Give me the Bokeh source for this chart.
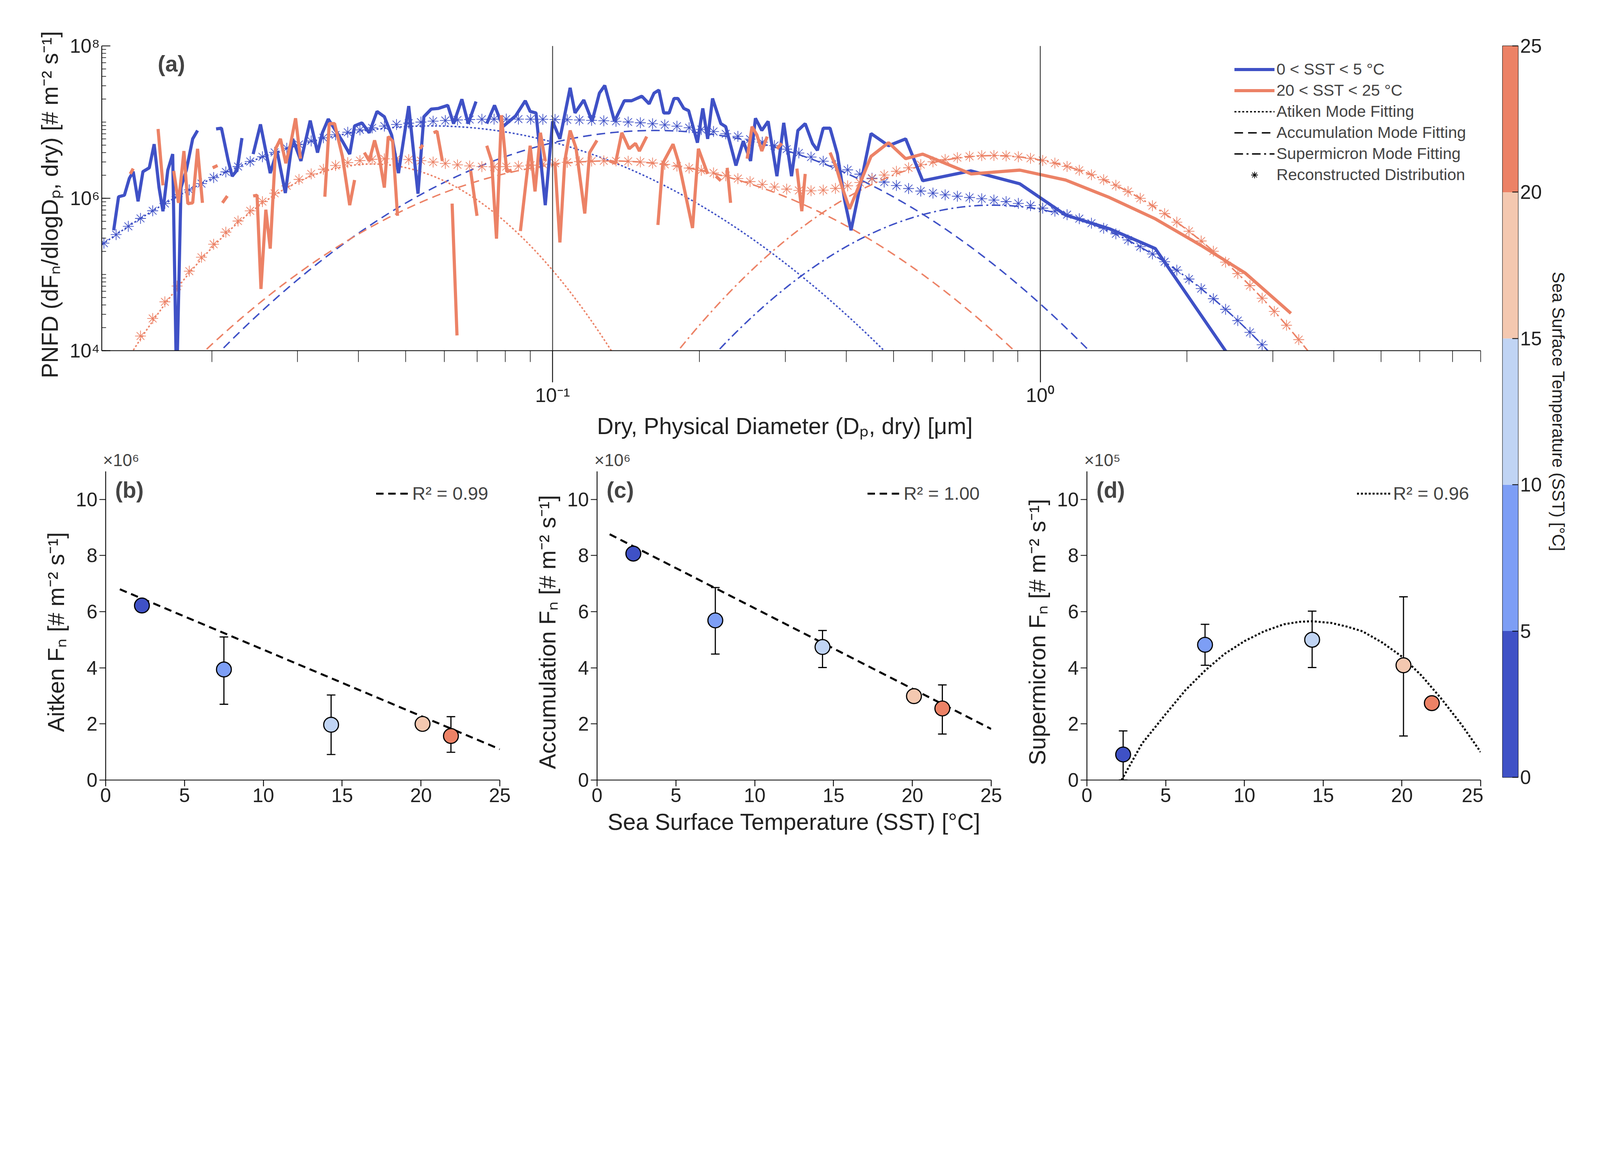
import numpy as np
from bokeh.plotting import figure
from bokeh.models import (Span, Label, Legend, LegendItem, FixedTicker, Whisker, TeeHead,
                          ColumnDataSource)
from bokeh.layouts import row, column
from bokeh.embed import file_html
from bokeh.resources import INLINE

S = 0.735  # global scale so the whole layout fits the captured viewport
def z(v):
    return int(round(v * S))
def fs(v):
    return f"{v * S:.1f}px"
def dash(*a):
    return " ".join(str(max(1, z(v))) for v in a)

FONT = "Liberation Sans"
BLUE = "#3f51c6"
ORANGE = "#ec8266"
CB_COLORS = ["#3f51c6", "#7d9ef5", "#c0d4f4", "#f4c8b0", "#ec8266"]
CB_EDGES = [0, 5, 10, 15, 20, 25]

# ---- panel (a): measured size distributions (log10 D [um], log10 PNFD) ----
blue_logD = [-1.900,-1.890,-1.878,-1.868,-1.860,-1.850,-1.840,-1.827,-1.817,-1.807,-1.799,-1.789,-1.779,-1.771,-1.762,-1.751,-1.738,-1.728,np.nan,
 -1.690,-1.679,-1.665,-1.657,-1.647,-1.637,np.nan,-1.614,-1.599,-1.579,-1.565,-1.548,-1.533,-1.516,-1.497,-1.482,-1.472,-1.460,-1.431,-1.416,-1.406,
 -1.391,-1.376,-1.360,-1.345,-1.330,-1.316,-1.295,-1.276,-1.264,-1.249,-1.234,-1.215,-1.203,-1.186,-1.173,-1.157,np.nan,-1.135,-1.119,-1.102,-1.076,
 -1.056,-1.046,-1.034,-1.015,-1.000,-0.985,-0.964,-0.954,-0.936,-0.919,-0.904,-0.893,-0.873,-0.853,-0.838,-0.817,-0.802,-0.792,-0.782,-0.772,-0.761,
 -0.751,-0.743,-0.731,-0.721,-0.703,-0.692,-0.682,-0.672,-0.655,-0.645,-0.624,-0.609,-0.594,-0.584,-0.571,-0.558,-0.540,-0.526,-0.510,-0.497,-0.482,
 -0.467,-0.457,-0.445,-0.431,-0.416,-0.401,-0.388,-0.347,-0.311,-0.276,-0.241,-0.142,-0.042,0.052,0.142,0.236,0.385]
blue_logV = [5.58,6.02,6.04,6.26,6.35,5.96,6.35,6.40,6.71,6.14,5.83,6.37,6.58,3.5,6.14,6.37,6.78,6.89,np.nan,
 6.91,6.92,6.49,6.29,6.37,6.79,np.nan,6.58,6.97,6.33,6.62,6.07,6.78,6.49,7.02,6.60,6.86,7.04,6.75,6.58,6.95,
 6.99,6.86,7.14,7.07,6.83,6.33,7.21,6.06,7.07,7.17,7.18,7.22,6.98,7.30,6.98,7.27,np.nan,6.98,7.22,6.94,7.08,
 7.28,7.14,7.12,5.91,7.01,6.78,7.45,7.12,7.29,7.01,7.38,7.48,7.01,7.28,7.28,7.34,7.24,7.38,7.42,7.12,7.12,
 7.31,7.31,7.18,7.15,6.73,7.18,6.78,7.31,6.98,6.94,6.43,6.75,6.49,7.05,6.89,7.01,6.29,6.99,6.29,6.89,6.98,
 6.72,6.63,6.92,6.92,6.58,5.97,5.58,6.85,6.69,6.78,6.23,6.36,6.19,5.78,5.60,5.34,3.95]
orange_logD = [-1.866,-1.860,np.nan,-1.809,-1.799,np.nan,-1.777,-1.767,-1.756,-1.748,-1.738,-1.728,-1.718,np.nan,-1.697,-1.687,np.nan,-1.677,-1.667,np.nan,
 -1.614,-1.606,-1.598,-1.588,-1.579,-1.568,-1.558,-1.547,-1.537,-1.527,-1.517,np.nan,-1.467,-1.458,-1.447,-1.431,-1.416,-1.406,np.nan,
 -1.386,-1.376,-1.365,-1.355,-1.345,-1.337,-1.328,-1.318,np.nan,-1.272,-1.266,np.nan,-1.244,-1.237,-1.226,np.nan,-1.206,-1.196,np.nan,-1.168,-1.155,np.nan,
 -1.135,-1.125,-1.115,-1.105,-1.094,-1.084,np.nan,-1.066,-1.046,-1.036,-1.025,-1.015,np.nan,-0.995,-0.985,-0.975,-0.964,-0.952,-0.934,-0.924,-0.909,np.nan,
 -0.883,-0.871,-0.858,-0.843,-0.830,-0.822,-0.807,np.nan,-0.784,-0.774,-0.753,-0.741,-0.713,-0.701,-0.682,np.nan,-0.665,-0.655,np.nan,-0.642,-0.635,np.nan,
 -0.601,-0.591,-0.581,-0.571,-0.560,np.nan,-0.540,-0.530,np.nan,-0.499,-0.489,-0.482,np.nan,-0.431,-0.418,-0.406,-0.391,-0.347,-0.311,-0.276,-0.241,
 -0.142,-0.042,0.052,0.142,0.236,0.330,0.420,0.514]
orange_logV = [6.32,6.39,np.nan,6.91,6.17,np.nan,6.36,5.94,6.62,5.93,5.94,6.65,5.94,np.nan,6.40,6.43,np.nan,5.94,6.03,np.nan,
 6.03,6.04,4.81,5.85,5.34,6.65,6.78,6.46,6.72,7.05,6.52,np.nan,6.02,6.98,6.98,6.55,5.91,6.24,np.nan,
 6.60,6.49,6.76,6.52,6.14,6.81,6.75,5.77,np.nan,6.65,6.70,np.nan,6.86,6.88,6.49,np.nan,5.93,4.20,np.nan,6.36,5.77,np.nan,
 6.69,6.49,5.47,7.09,6.35,6.37,np.nan,5.57,6.69,6.09,6.86,6.49,np.nan,6.45,5.42,6.49,6.89,6.66,5.80,6.60,6.76,np.nan,
 6.49,6.46,6.86,6.65,6.72,6.62,6.81,np.nan,5.65,6.46,6.71,6.46,5.61,6.65,6.32,np.nan,6.29,6.23,np.nan,6.40,5.94,np.nan,
 6.52,6.94,6.83,6.62,6.81,np.nan,6.65,6.72,np.nan,6.39,5.83,6.32,np.nan,6.60,6.40,6.14,5.86,6.55,6.73,6.52,6.58,
 6.32,6.37,6.24,6.01,5.73,5.38,5.02,4.49]

# lognormal mode fits: [Aitken, Accumulation, Supermicron] -> peak log10 PNFD, log10 Dg, log10 sigma
blue_peak = [6.95, 6.89, 5.91]
blue_logDg = [-1.249, -0.79, -0.097]
blue_sig = [0.252, 0.244, 0.19]
orange_peak = [6.45, 6.49, 6.56]
orange_logDg = [-1.37, -0.883, -0.097]
orange_sig = [0.146, 0.245, 0.188]
mode_dash = [dash(7, 7), dash(30, 18), dash(30, 12, 7, 12)]

# ---- panels (b)-(d) ----
sst = [2.3, 7.5, 14.3, 20.1, 21.9]
pt_colors = CB_COLORS
aitken = [6.22, 3.94, 1.97, 2.0, 1.57]
aitken_lo = [6.12, 2.7, 0.91, 1.85, 0.99]
aitken_hi = [6.32, 5.1, 3.03, 2.15, 2.26]
accum = [8.07, 5.69, 4.74, 2.99, 2.55]
accum_lo = [7.97, 4.49, 4.01, 2.89, 1.64]
accum_hi = [8.17, 6.86, 5.33, 3.09, 3.39]
superm = [0.91, 4.82, 5.0, 4.09, 2.74]
superm_lo = [0.0, 4.09, 4.01, 1.57, 2.64]
superm_hi = [1.75, 5.55, 6.02, 6.53, 2.84]
fit_b_x = [0.9, 25]; fit_b_y = [6.8, 1.1]
fit_c_x = [0.8, 25]; fit_c_y = [8.76, 1.82]
fit_d_x = [2.2, 3.5, 5, 6.25, 7.5, 8.75, 10, 11.25, 12.5, 13.5, 14.3, 15.5, 16.5, 17.5, 18.75, 20, 21.25, 22.5, 23.75, 25]
fit_d_y = [0.0, 1.3, 2.35, 3.2, 3.9, 4.5, 4.95, 5.3, 5.55, 5.64, 5.66, 5.6, 5.47, 5.3, 4.9, 4.4, 3.72, 2.9, 2.0, 1.0]

TICK = fs(68)
LAB = fs(80)

def style(p):
    p.outline_line_color = None
    p.xgrid.visible = False
    p.ygrid.visible = False
    p.background_fill_color = "white"
    for ax in p.xaxis + p.yaxis:
        ax.major_label_text_font = FONT
        ax.major_label_text_font_size = TICK
        ax.major_label_text_color = "#222222"
        ax.axis_label_text_font = FONT
        ax.axis_label_text_font_size = LAB
        ax.axis_label_text_color = "#222222"
        ax.axis_label_text_font_style = "normal"
        ax.axis_label_standoff = z(20)
        ax.axis_line_width = 3 * S
        ax.major_tick_line_width = 3 * S
        ax.minor_tick_line_width = 2 * S
        ax.major_tick_out = z(22)
        ax.major_tick_in = 0
        ax.minor_tick_out = z(12)
        ax.minor_tick_in = 0

# ---------------- top panel ----------------
top = figure(width=z(5166), height=z(1540), x_axis_type="log", y_axis_type="log",
             x_range=(0.0119, 8.0), y_range=(1e4, 1e8), output_backend="svg",
             toolbar_location=None, min_border_left=z(354), min_border_right=z(10),
             min_border_top=z(159), min_border_bottom=z(320))
style(top)
xminor = [m * 10.0**e for e in (-2, -1, 0) for m in range(2, 10)]
top.xaxis.ticker = FixedTicker(ticks=[0.1, 1.0], minor_ticks=xminor)
top.xaxis.major_label_overrides = {0.1: "10⁻¹", 1.0: "10⁰"}
top.xaxis.major_tick_out = z(110)
top.xaxis.minor_tick_out = z(40)
yminor = [m * 10.0**e for e in range(4, 8) for m in range(1, 10)]
top.yaxis.ticker = FixedTicker(ticks=[1e4, 1e6, 1e8], minor_ticks=yminor)
top.yaxis.major_label_overrides = {1e4: "10⁴", 1e6: "10⁶", 1e8: "10⁸"}
top.yaxis.major_tick_in = z(30); top.yaxis.major_tick_out = 0
top.yaxis.minor_tick_in = z(15); top.yaxis.minor_tick_out = 0
top.xaxis.axis_label = "Dry,  Physical Diameter (Dₚ, dry)  [μm]"
top.yaxis.axis_label = "PNFD  (dFₙ/dlogDₚ, dry)  [# m⁻² s⁻¹]"

for xv in (0.1, 1.0):
    top.add_layout(Span(location=xv, dimension="height", line_color="#333333", line_width=3 * S))

grid = np.linspace(-2.0, 1.0, 400)
star_logD = np.arange(-1.92, 0.56, 0.025)

def mode(lg, pk, dg, s):
    return 10 ** (pk - 0.4343 * (lg - dg) ** 2 / (2 * s ** 2))

for col, pks, dgs, sgs in ((BLUE, blue_peak, blue_logDg, blue_sig), (ORANGE, orange_peak, orange_logDg, orange_sig)):
    for pk, dg, s, dsh in zip(pks, dgs, sgs, mode_dash):
        yv = mode(grid, pk, dg, s)
        m = yv > 3e3
        top.line(10 ** grid[m], yv[m], line_color=col, line_width=5 * S, line_dash=dsh)
    tot = sum(mode(star_logD, pk, dg, s) for pk, dg, s in zip(pks, dgs, sgs))
    m = tot >= 1e4
    top.scatter(10 ** star_logD[m], tot[m], marker="asterisk", size=z(38), line_color=col, line_width=2.5 * S)

rb = top.line(10 ** np.array(blue_logD), 10 ** np.array(blue_logV), line_color=BLUE, line_width=11 * S)
ro = top.line(10 ** np.array(orange_logD), 10 ** np.array(orange_logV), line_color=ORANGE, line_width=11 * S)

# legend-only renderers (placed outside the visible range)
off_x = [1e-3, 2e-3]; off_y = [1.0, 1.0]
d1 = top.line(off_x, off_y, line_color="black", line_width=5 * S, line_dash=mode_dash[0])
d2 = top.line(off_x, off_y, line_color="black", line_width=5 * S, line_dash=mode_dash[1])
d3 = top.line(off_x, off_y, line_color="black", line_width=5 * S, line_dash=mode_dash[2])
d4 = top.scatter(off_x, off_y, marker="asterisk", size=z(38), line_color="black", line_width=2.5 * S)
leg = Legend(items=[LegendItem(label="0 < SST < 5 °C", renderers=[rb]),
                    LegendItem(label="20 < SST < 25 °C", renderers=[ro]),
                    LegendItem(label="Atiken Mode Fitting", renderers=[d1]),
                    LegendItem(label="Accumulation Mode Fitting", renderers=[d2]),
                    LegendItem(label="Supermicron Mode Fitting", renderers=[d3]),
                    LegendItem(label="Reconstructed Distribution", renderers=[d4])],
             location="top_right", border_line_color=None, background_fill_alpha=0,
             label_text_font=FONT, label_text_font_size=fs(56), glyph_width=z(140),
             glyph_height=z(58), label_height=z(58), spacing=z(10), padding=z(10), margin=z(50))
top.add_layout(leg)
top.add_layout(Label(x=0.0155, y=4.0e7, text="(a)", text_font=FONT, text_font_size=fs(78),
                     text_font_style="bold"))

# ---------------- bottom panels ----------------
def panel(letter, yvals, lo, hi, fx, fy, dsh, r2, ylabel, mult, bl, br, xlabel=None):
    p = figure(width=z(bl + 1372 + br), height=z(1435), x_range=(0, 25), y_range=(0, 11),
               output_backend="svg", toolbar_location=None, min_border_left=z(bl),
               min_border_right=z(br), min_border_top=z(100), min_border_bottom=z(260))
    style(p)
    p.title.text = mult
    p.title.text_font = FONT
    p.title.text_font_size = fs(60)
    p.title.text_font_style = "normal"
    p.title.align = "left"
    p.title.offset = -z(10)
    p.xaxis.ticker = FixedTicker(ticks=[0, 5, 10, 15, 20, 25])
    p.yaxis.ticker = FixedTicker(ticks=[0, 2, 4, 6, 8, 10])
    p.yaxis.axis_label = ylabel
    if xlabel:
        p.xaxis.axis_label = xlabel
    fl = p.line(fx, fy, line_color="black", line_width=7 * S, line_dash=dsh)
    src = ColumnDataSource(dict(x=sst, y=yvals, lo=lo, hi=hi, c=pt_colors))
    p.add_layout(Whisker(base="x", upper="hi", lower="lo", source=src, line_width=4 * S,
                         upper_head=TeeHead(size=z(30), line_width=4 * S),
                         lower_head=TeeHead(size=z(30), line_width=4 * S)))
    p.scatter("x", "y", source=src, size=z(52), fill_color="c", line_color="black", line_width=4 * S)
    lg = Legend(items=[LegendItem(label="R² = " + r2, renderers=[fl])], location="top_right",
                border_line_color=None, background_fill_alpha=0, label_text_font=FONT,
                label_text_font_size=fs(64), glyph_width=z(120), glyph_height=z(60), margin=z(40))
    p.add_layout(lg)
    p.add_layout(Label(x=0.6, y=9.9, text=letter, text_font=FONT, text_font_size=fs(78),
                       text_font_style="bold"))
    return p

pb = panel("(b)", aitken, aitken_lo, aitken_hi, fit_b_x, fit_b_y, dash(26, 16), "0.99",
           "Aitken  Fₙ  [# m⁻² s⁻¹]", "×10⁶", 368, 60)
pc = panel("(c)", accum, accum_lo, accum_hi, fit_c_x, fit_c_y, dash(26, 16), "1.00",
           "Accumulation  Fₙ  [# m⁻² s⁻¹]", "×10⁶", 279, 60,
           xlabel="Sea Surface Temperature (SST) [°C]")
pd_ = panel("(d)", superm, superm_lo, superm_hi, fit_d_x, fit_d_y, dash(7, 7), "0.96",
            "Supermicron  Fₙ  [# m⁻² s⁻¹]", "×10⁵", 273, 10)

# ---------------- colour bar ----------------
cb = figure(width=z(360), height=z(2975), x_range=(0, 1), y_range=(0, 25), output_backend="svg",
            toolbar_location=None, min_border_left=z(67), min_border_right=z(240),
            min_border_top=z(159), min_border_bottom=z(270), y_axis_location="right")
style(cb)
cb.xaxis.visible = False
cb.quad(left=0, right=1, bottom=CB_EDGES[:-1], top=CB_EDGES[1:], fill_color=CB_COLORS, line_color=None)
cb.outline_line_color = "black"
cb.outline_line_width = 2 * S
cb.yaxis.ticker = FixedTicker(ticks=[0, 5, 10, 15, 20, 25])
cb.yaxis.axis_line_color = None
cb.yaxis.major_tick_in = z(20); cb.yaxis.major_tick_out = 0
cb.yaxis.axis_label = "Sea Surface Temperature (SST) [°C]"
cb.yaxis.axis_label_text_font_size = fs(60)

lay = row(column(top, row(pb, pc, pd_)), cb)
open("out.html", "w").write(file_html(lay, INLINE))
